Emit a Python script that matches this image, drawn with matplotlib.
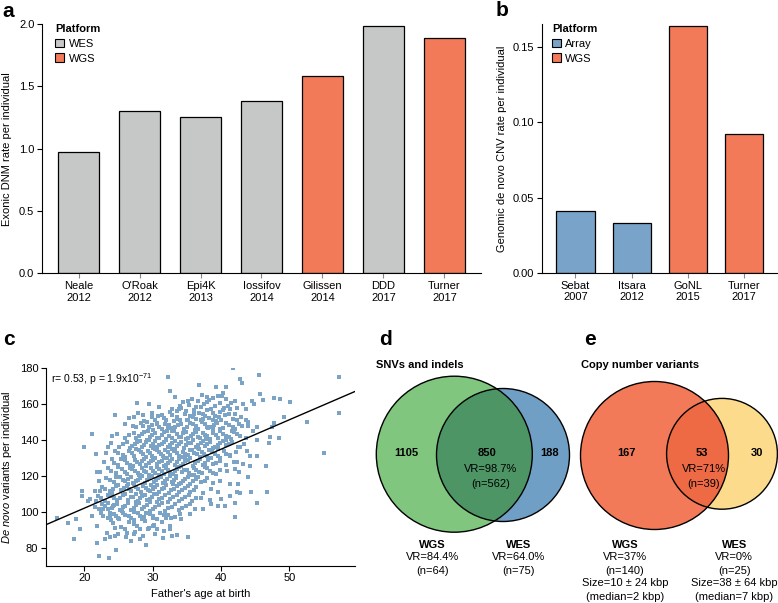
import numpy as np
import matplotlib
matplotlib.use("Agg")
import matplotlib.pyplot as plt
from matplotlib.patches import Circle, Patch

plt.rcParams['font.family'] = ['Liberation Sans', 'DejaVu Sans']
plt.rcParams['mathtext.fontset'] = 'custom'
plt.rcParams['mathtext.rm'] = 'Liberation Sans'
plt.rcParams['mathtext.it'] = 'Liberation Sans:italic'
plt.rcParams['mathtext.bf'] = 'Liberation Sans:bold'
plt.rcParams['font.size'] = 8

# ---- data ----
# a: exonic DNM rate
studies_a = ["Neale\n2012", "O'Roak\n2012", "Epi4K\n2013", "Iossifov\n2014",
             "Gilissen\n2014", "DDD\n2017", "Turner\n2017"]
rate_a = [0.97, 1.30, 1.25, 1.38, 1.58, 1.98, 1.89]
platform_a = ["WES", "WES", "WES", "WES", "WGS", "WES", "WGS"]

# b: genomic de novo CNV rate
studies_b = ["Sebat\n2007", "Itsara\n2012", "GoNL\n2015", "Turner\n2017"]
rate_b = [0.041, 0.033, 0.164, 0.092]
platform_b = ["Array", "Array", "WGS", "WGS"]

# c: father's age vs de novo count
pts_c = [
    (41.7, 180), (32.2, 175.2), (45.6, 176.3), (57.2, 175.2), (42.8, 174), (43.0, 171.6),
    (36.8, 170.3), (32.5, 167), (39.3, 169.2), (40.8, 169.2), (40.1, 164.4), (38.9, 163.2),
    (27.7, 160.4), (45.7, 165.3), (46.2, 162), (47.7, 163.2), (48.6, 162.5), (50.1, 161.2),
    (44.5, 161.6), (44.8, 159.7), (43.2, 160), (57.2, 155.2), (52.6, 150.2), (49.2, 153),
    (47.4, 147.4), (47.7, 149.5), (45.2, 140), (47.0, 138.3), (48.5, 140.9), (47.1, 141.5),
    (55.1, 132.5), (44.3, 130.8), (46.6, 125.3), (44.2, 125.6), (44.0, 119.1), (46.8, 111.1),
    (45.2, 105.1), (44.4, 111.1), (42.0, 97.3), (42.0, 104.8),
    (21.1, 143.3), (20.0, 136.2), (21.7, 132.1), (23.4, 136.2), (24.5, 153.6), (24.1, 142.4),
    (16.0, 96.8), (17.6, 93.6), (18.8, 96.2), (18.5, 84.7), (19.4, 90.2), (19.7, 111.7),
    (19.6, 109), (20.6, 106.1), (21.7, 106.1), (22.3, 111.3), (21.8, 121.9), (22.1, 117.2),
    (21.9, 92.1), (21.8, 82.8), (22.2, 75.3), (23.6, 74.4), (24.7, 78.7), (23.0, 84.7),
    (23.3, 88.4), (22.8, 101.5), (23.8, 97.7), (24.5, 86.5), (24.5, 91.2), (25.0, 96.8),
    (24.2, 103.4), (26.2, 88.4), (26.8, 83.7), (28.1, 84.7), (29.1, 81.3), (27.2, 87.5),
    (28.1, 90.2), (29.3, 90.2), (30.6, 90.2), (31.6, 89.3), (32.8, 86.5), (35.2, 86.1),
    (32.5, 90.2), (30.0, 92.1), (27.2, 93), (28.4, 95.8), (30.1, 96.8), (32.0, 96.8),
    (34.2, 95.8), (35.4, 98.6), (37.3, 101.4), (38.6, 104.2), (39.6, 103.3), (40.6, 103.3),
    (41.3, 108.9), (42.8, 110.7), (42.5, 115.4), (41.3, 115.4), (39.8, 117.2), (42.0, 123.8),
    (43.2, 126.5), (42.4, 127.5), (41.3, 131.2), (43.8, 134), (42.8, 135.9), (45.2, 131.2),
    (44.0, 148), (44.7, 145.2), (43.7, 150.8), (42.0, 154.5), (41.3, 157.3), (40.3, 156.4),
    (37.9, 161), (37.0, 158.2), (36.0, 154.5), (35.1, 161.9), (34.0, 159.1), (32.8, 157.3),
    (31.6, 152.2), (29.9, 152.6), (28.6, 153.6), (29.2, 149.8), (27.5, 147), (27.2, 152.6),
    (30.6, 148.9), (32.3, 147), (33.5, 151.7), (35.0, 150.8), (37.4, 151.7), (38.9, 150.8),
    (37.9, 147),
    (33.2, 164), (34.5, 161), (35.8, 163), (37.2, 165), (38.3, 162), (39.6, 164.5),
    (40.8, 163), (41.5, 160.5), (42.3, 158), (36.4, 158.5), (33.8, 157), (31.0, 158.5),
    (29.4, 160), (39.1, 158.8), (40.4, 157.5), (37.9, 156.9), (43.6, 157.2), (34.9, 156),
    (27.8, 155), (29.9, 154.8), (31.3, 153.7), (32.5, 155.5), (33.6, 152.8), (34.7, 154.3),
    (35.9, 152.5), (36.8, 155.2), (37.7, 153.5), (38.8, 154.8), (39.7, 152.6), (40.6, 153.9),
    (41.8, 151.5), (42.9, 152.8), (30.4, 151.2), (28.8, 150.6), (33.1, 150.3), (35.2, 150.9),
    (37.1, 151.1), (39.2, 150.4), (26.5, 152.0), (43.9, 150.1),
    (25.9, 148.8), (27.1, 147.5), (28.3, 149.3), (29.5, 147.2), (30.6, 149.5), (31.4, 146.3),
    (32.4, 148.2), (33.3, 146.9), (34.2, 149.1), (35.0, 147.4), (35.9, 148.6), (36.7, 146.1),
    (37.6, 148.9), (38.5, 147.0), (39.4, 149.2), (40.3, 146.8), (41.2, 148.3), (42.1, 146.2),
    (43.1, 147.8), (45.2, 146.9), (30.0, 145.4), (32.9, 145.1), (36.2, 145.3), (38.9, 145.8),
    (41.6, 145.0),
    (24.8, 143.4), (26.0, 141.2), (27.2, 144.1), (28.0, 142.0), (28.8, 144.5), (29.6, 141.6),
    (30.3, 143.8), (31.0, 141.1), (31.7, 144.2), (32.4, 142.3), (33.1, 144.7), (33.8, 141.4),
    (34.5, 143.6), (35.2, 140.9), (35.9, 143.1), (36.6, 141.7), (37.3, 144.0), (38.0, 142.1),
    (38.8, 143.9), (39.5, 141.3), (40.3, 143.5), (41.1, 141.8), (41.9, 144.3), (42.8, 142.0),
    (43.7, 141.0), (29.2, 140.2), (32.0, 140.3), (34.9, 140.5), (37.8, 140.4), (40.7, 140.1),
    (23.9, 138.4), (25.1, 136.2), (26.3, 139.0), (27.0, 136.8), (27.7, 138.9), (28.4, 136.0),
    (29.0, 138.6), (29.7, 136.5), (30.4, 139.3), (31.0, 137.1), (31.6, 138.8), (32.3, 135.8),
    (32.9, 138.2), (33.6, 136.4), (34.2, 139.1), (34.9, 137.0), (35.6, 138.5), (36.3, 135.9),
    (37.0, 138.3), (37.7, 136.6), (38.4, 139.0), (39.1, 136.3), (39.9, 138.1), (40.8, 136.9),
    (41.6, 138.7), (42.5, 136.0), (43.4, 137.9), (30.1, 135.3), (33.3, 135.2), (36.7, 135.4),
    (39.5, 135.1),
    (23.2, 132.5), (24.5, 134.0), (25.6, 131.8), (26.6, 133.9), (27.3, 131.2), (28.0, 134.3),
    (28.6, 132.0), (29.3, 133.8), (29.9, 131.0), (30.6, 134.4), (31.2, 132.2), (31.8, 134.6),
    (32.5, 131.5), (33.1, 133.6), (33.8, 130.8), (34.4, 133.2), (35.1, 131.4), (35.8, 134.1),
    (36.5, 131.9), (37.2, 133.5), (37.9, 130.9), (38.7, 133.0), (39.5, 131.3), (40.4, 133.7),
    (41.3, 131.6), (42.2, 133.1), (30.3, 130.2), (32.1, 130.1), (34.8, 130.4), (36.9, 130.3),
    (22.9, 127.5), (24.0, 129.1), (25.0, 126.3), (25.9, 128.7), (26.7, 126.0), (27.4, 128.9),
    (28.1, 126.6), (28.7, 129.3), (29.4, 127.0), (30.0, 129.0), (30.7, 126.4), (31.3, 128.5),
    (31.9, 125.9), (32.6, 128.1), (33.2, 126.2), (33.9, 129.4), (34.5, 126.8), (35.2, 128.6),
    (35.9, 125.7), (36.6, 128.2), (37.3, 126.0), (38.1, 128.8), (38.9, 126.5), (39.8, 128.4),
    (40.7, 125.8), (41.9, 127.7), (29.1, 125.3), (31.6, 125.2), (34.1, 125.4),
    (22.3, 122.0), (23.5, 124.2), (24.6, 121.5), (25.5, 123.6), (26.3, 120.9), (27.0, 123.9),
    (27.8, 121.7), (28.4, 124.4), (29.1, 122.1), (29.7, 124.6), (30.4, 121.3), (31.0, 123.8),
    (31.7, 120.8), (32.3, 123.3), (33.0, 121.2), (33.6, 124.0), (34.3, 121.9), (35.0, 123.5),
    (35.7, 120.7), (36.4, 123.1), (37.2, 121.4), (38.0, 124.3), (38.9, 121.8), (39.8, 123.2),
    (40.9, 122.5), (42.6, 121.9), (28.0, 120.3), (30.9, 120.2), (33.4, 120.1), (36.0, 120.4),
    (22.1, 117.2), (23.2, 118.6), (24.3, 116.4), (25.2, 119.1), (26.0, 116.9), (26.8, 119.4),
    (27.5, 117.1), (28.2, 118.9), (28.9, 116.2), (29.5, 119.2), (30.2, 116.8), (30.8, 118.7),
    (31.5, 115.8), (32.1, 118.3), (32.8, 116.5), (33.4, 119.0), (34.1, 116.1), (34.8, 118.4),
    (35.5, 115.6), (36.3, 118.1), (37.1, 116.3), (38.0, 118.8), (38.9, 116.0), (39.8, 117.2),
    (41.3, 115.4), (26.4, 115.3), (29.8, 115.1), (33.0, 115.2),
    (21.5, 111.8), (22.6, 113.9), (23.7, 111.4), (24.6, 114.2), (25.4, 112.0), (26.2, 114.5),
    (26.9, 111.3), (27.6, 113.6), (28.3, 110.9), (29.0, 113.1), (29.6, 111.5), (30.3, 114.0),
    (31.0, 111.0), (31.7, 113.4), (32.4, 110.6), (33.1, 112.8), (33.9, 110.8), (34.7, 113.3),
    (35.5, 111.2), (36.4, 113.7), (37.4, 110.7), (38.5, 112.6), (39.6, 111.0), (42.3, 110.9),
    (24.1, 110.2), (30.7, 110.1),
    (20.9, 107.1), (22.0, 108.6), (23.1, 106.2), (24.0, 108.9), (24.8, 106.5), (25.6, 109.1),
    (26.4, 106.8), (27.1, 108.3), (27.8, 105.9), (28.5, 108.7), (29.2, 106.4), (29.9, 108.1),
    (30.6, 105.6), (31.4, 107.9), (32.2, 105.3), (33.0, 108.0), (33.9, 106.1), (34.8, 108.4),
    (35.8, 105.8), (37.0, 107.4), (38.4, 106.6), (40.0, 107.3), (23.5, 105.1), (27.5, 105.2),
    (21.6, 102.4), (22.6, 104.1), (23.5, 101.5), (24.4, 103.8), (25.2, 101.0), (26.0, 103.4),
    (26.8, 100.8), (27.6, 103.7), (28.4, 101.3), (29.2, 104.0), (30.0, 101.6), (30.9, 103.5),
    (31.8, 100.7), (32.8, 102.9), (33.8, 100.9), (34.9, 103.1), (36.2, 101.4), (25.5, 100.2),
    (29.6, 100.3),
    (21.2, 97.4), (22.4, 99.1), (23.4, 96.5), (24.3, 98.8), (25.1, 95.9), (26.0, 98.2),
    (26.9, 96.3), (27.8, 99.3), (28.7, 96.9), (29.6, 98.5), (30.6, 95.8), (31.6, 98.0),
    (32.7, 96.6), (34.0, 98.7), (23.9, 95.2), (27.3, 95.4),
    (24.2, 93.5), (25.4, 91.6), (26.5, 94.2), (27.7, 92.3), (28.9, 94.6), (30.2, 92.8),
    (31.3, 94.1), (32.6, 91.9), (25.9, 90.4), (29.4, 90.9),
    (24.9, 87.8), (26.1, 86.2), (27.4, 88.9), (28.6, 86.7), (30.4, 87.4), (31.5, 85.6),
    (33.6, 86.9), (23.8, 85.8),
    # denser core
    (34.1, 157.8), (35.3, 159.6), (36.1, 156.4), (37.5, 160.2), (38.6, 157.4), (39.9, 160.8),
    (41.0, 158.9), (42.0, 161.7), (38.0, 163.6), (40.3, 166.1), (36.6, 161.4),
    (30.8, 153.1), (31.9, 151.0), (32.8, 153.6), (34.0, 151.3), (35.4, 153.2), (36.3, 151.8),
    (37.3, 154.6), (38.2, 152.0), (39.1, 153.4), (40.0, 151.1), (41.2, 154.2), (42.4, 150.9),
    (33.5, 155.9), (39.9, 155.6),
    (28.6, 147.9), (29.9, 148.4), (30.9, 146.9), (31.8, 148.8), (32.7, 146.5), (33.7, 148.4),
    (34.6, 146.2), (35.5, 149.4), (36.4, 147.5), (37.2, 149.8), (38.1, 146.5), (39.0, 148.1),
    (39.9, 146.2), (40.8, 149.6), (41.7, 147.3), (42.6, 148.9),
    (26.6, 142.8), (27.6, 141.3), (28.4, 143.0), (29.3, 144.9), (29.9, 142.7), (30.7, 140.8),
    (31.4, 142.6), (32.1, 144.9), (32.8, 141.0), (33.5, 143.0), (34.2, 141.6), (34.9, 144.3),
    (35.6, 142.2), (36.3, 144.6), (36.9, 140.8), (37.6, 142.9), (38.4, 140.7), (39.2, 142.6),
    (39.9, 144.8), (40.7, 142.3), (41.5, 140.6), (42.4, 143.1),
    (25.7, 137.5), (26.7, 135.6), (27.4, 137.6), (28.1, 139.6), (28.7, 137.2), (29.4, 139.7),
    (30.0, 137.8), (30.7, 136.0), (31.3, 137.9), (32.0, 139.8), (32.6, 137.0), (33.3, 139.5),
    (33.9, 137.6), (34.6, 135.6), (35.2, 138.0), (35.9, 139.8), (36.6, 137.2), (37.3, 139.5),
    (38.0, 137.5), (38.8, 135.6), (39.5, 137.3), (40.3, 139.4), (41.2, 137.6),
    (24.9, 132.6), (26.0, 130.4), (27.0, 132.7), (27.6, 134.9), (28.3, 133.0), (29.0, 130.6),
    (29.6, 132.7), (30.3, 135.0), (30.9, 133.1), (31.5, 131.0), (32.2, 133.0), (32.8, 134.9),
    (33.5, 132.5), (34.1, 130.5), (34.7, 132.4), (35.4, 134.6), (36.1, 132.6), (36.8, 134.9),
    (37.5, 132.3), (38.3, 134.4), (39.1, 132.2), (39.9, 130.1), (40.8, 132.4),
    (24.4, 127.0), (25.4, 129.6), (26.3, 127.4), (27.1, 125.3), (27.7, 127.6), (28.4, 128.0),
    (29.0, 125.8), (29.7, 128.0), (30.3, 130.0), (31.0, 127.7), (31.6, 129.8), (32.3, 127.0),
    (32.9, 129.6), (33.5, 127.5), (34.2, 125.5), (34.8, 128.1), (35.5, 130.0), (36.2, 127.1),
    (36.9, 129.5), (37.7, 127.3), (38.5, 129.8), (39.3, 127.4),
    (23.9, 122.6), (25.0, 124.8), (25.9, 122.2), (26.7, 124.6), (27.4, 122.6), (28.1, 120.6),
    (28.8, 122.8), (29.4, 120.7), (30.0, 122.9), (30.7, 125.0), (31.3, 122.5), (32.0, 124.6),
    (32.6, 121.9), (33.3, 122.8), (33.9, 125.1), (34.6, 123.0), (35.3, 121.5), (36.0, 124.2),
    (36.8, 122.3), (37.6, 124.8), (38.4, 122.5), (39.3, 120.8),
    (23.8, 117.5), (24.7, 119.6), (25.6, 117.8), (26.4, 118.3), (27.1, 115.9), (27.9, 117.8),
    (28.5, 119.8), (29.2, 117.6), (29.9, 119.9), (30.5, 117.7), (31.2, 119.6), (31.8, 117.3),
    (32.5, 119.7), (33.1, 117.5), (33.8, 115.4), (34.5, 117.3), (35.2, 119.5), (35.9, 117.1),
    (36.7, 119.6), (37.6, 117.4),
    (23.1, 112.5), (24.2, 112.9), (25.0, 115.1), (25.8, 113.0), (26.6, 112.4), (27.3, 115.2),
    (27.9, 112.5), (28.6, 114.6), (29.3, 112.3), (30.0, 112.6), (30.7, 114.9), (31.3, 112.4),
    (32.0, 114.8), (32.7, 112.2), (33.5, 114.5), (34.3, 111.9), (35.1, 114.3), (36.0, 112.3),
    (22.5, 107.5), (23.5, 109.6), (24.4, 107.5), (25.2, 107.9), (26.0, 109.8), (26.8, 108.0),
    (27.5, 109.9), (28.1, 107.4), (28.9, 109.6), (29.6, 107.3), (30.2, 109.7), (31.0, 106.9),
    (31.8, 109.4), (32.6, 107.2), (33.5, 109.3), (34.3, 107.2), (35.3, 109.6), (36.4, 107.9),
    (22.1, 101.4), (23.0, 103.0), (24.0, 102.3), (24.8, 104.5), (25.6, 102.5), (26.4, 104.8),
    (27.2, 102.2), (28.0, 104.9), (28.8, 102.8), (29.6, 105.3), (30.4, 102.9), (31.3, 105.0),
    (32.3, 101.9), (33.3, 104.2), (34.3, 102.1), (35.5, 104.6),
    (22.8, 97.9), (23.8, 99.6), (24.7, 97.4), (25.6, 99.5), (26.5, 97.6), (27.3, 99.8),
    (28.2, 97.8), (29.1, 99.6), (30.1, 97.5), (31.1, 99.6), (32.2, 98.4), (33.3, 97.1),
]
father_age = [p[0] for p in pts_c]
dnm_count = [p[1] for p in pts_c]
fit_slope = 1.64
fit_intercept = 69.2

# d, e: venn counts
venn_d = ["1105", "850", "188"]
venn_e = ["167", "53", "30"]

COL = {"WES": "#c6c7c7", "WGS": "#f27a58", "Array": "#79a3c8"}
SCAT = "#7aa3c6"

fig = plt.figure(figsize=(7.78, 6.03), dpi=100)
W, H = 778.0, 603.0


def px_axes(l, t, r, b):
    return fig.add_axes([l / W, 1 - b / H, (r - l) / W, (b - t) / H])


def style(ax):
    for s in ("top", "right"):
        ax.spines[s].set_visible(False)
    ax.tick_params(direction="out", length=3.5, width=0.8, labelsize=8, pad=2)


def platform_legend(ax, names):
    handles = [Patch(facecolor=COL[n], edgecolor="black", linewidth=0.8, label=n) for n in names]
    leg = ax.legend(handles=handles, title="Platform", loc="upper left",
                    bbox_to_anchor=(0.015, 1.025), frameon=False,
                    handlelength=0.8, handleheight=0.8, handletextpad=0.4, labelspacing=0.4,
                    borderaxespad=0.2, fontsize=8,
                    title_fontproperties={"weight": "bold", "size": 8})
    leg._legend_box.align = "left"


# ---- panel a ----
ax1 = px_axes(42, 24, 481, 273.3)
style(ax1)
ax1.bar(range(len(rate_a)), rate_a, width=0.68,
        color=[COL[p] for p in platform_a], edgecolor="black", linewidth=0.9)
ax1.set_xlim(-0.6, len(rate_a) - 0.4)
ax1.set_ylim(0, 2.0)
ax1.set_yticks([0, 0.5, 1.0, 1.5, 2.0])
ax1.set_xticks(range(len(studies_a)))
ax1.set_xticklabels(studies_a)
ax1.tick_params(axis="x", color="#888888")
ax1.set_ylabel("Exonic DNM rate per individual", fontsize=8, labelpad=5)
platform_legend(ax1, ["WES", "WGS"])

# ---- panel b ----
ax2 = px_axes(541.7, 24, 777.7, 273)
style(ax2)
ax2.bar(range(len(rate_b)), rate_b, width=0.68,
        color=[COL[p] for p in platform_b], edgecolor="black", linewidth=0.9)
ax2.set_xlim(-0.6, len(rate_b) - 0.4)
ax2.set_ylim(0, 0.165)
ax2.set_yticks([0, 0.05, 0.10, 0.15])
ax2.set_yticklabels(["0.00", "0.05", "0.10", "0.15"])
ax2.set_xticks(range(len(studies_b)))
ax2.set_xticklabels(studies_b)
ax2.tick_params(axis="x", color="#888888")
ax2.set_ylabel("Genomic de novo CNV rate per individual", fontsize=8, labelpad=4)
platform_legend(ax2, ["Array", "WGS"])

# ---- panel c ----
ax3 = px_axes(46, 368, 355, 565.7)
style(ax3)
ax3.scatter(father_age, dnm_count, s=6.5, marker="s", color=SCAT, linewidths=0)
xl = (14.4, 59.6)
ax3.plot(xl, [fit_intercept + fit_slope * x for x in xl], color="black", lw=1)
ax3.set_xlim(*xl)
ax3.set_ylim(70, 180)
ax3.set_yticks([80, 100, 120, 140, 160, 180])
ax3.set_xticks([20, 30, 40, 50])
ax3.set_xlabel("Father's age at birth", fontsize=8, labelpad=4)
ax3.set_ylabel(r"$\it{De\ novo}$ variants per individual", fontsize=8, labelpad=4)
ax3.text(0.015, 0.985, r"r= 0.53, p = 1.9x10$^{-71}$", transform=ax3.transAxes,
         ha="left", va="top", fontsize=7.5)

# ---- panels d, e (venn) ----
axv = fig.add_axes([0, 0, 1, 1])
axv.set_xlim(0, W)
axv.set_ylim(H, 0)
axv.axis("off")


def venn(ax, c1, r1, c2, r2, col1, col2, colx):
    ax.add_patch(Circle(c1, r1, facecolor=col1, edgecolor="none"))
    ax.add_patch(Circle(c2, r2, facecolor=col2, edgecolor="none"))
    clip = Circle(c1, r1, transform=ax.transData, facecolor="none")
    inter = Circle(c2, r2, facecolor=colx, edgecolor="none")
    ax.add_patch(inter)
    inter.set_clip_path(clip)
    ax.add_patch(Circle(c1, r1, facecolor="none", edgecolor="black", lw=1))
    ax.add_patch(Circle(c2, r2, facecolor="none", edgecolor="black", lw=1))


venn(axv, (454.3, 454.2), 78, (503, 455), 66.5, "#80c67e", "#709fc6", "#4e9566")
venn(axv, (654.5, 455.5), 74, (722, 453.8), 55.4, "#f27a58", "#fcdc8c", "#ee6a45")

for x, t in zip([406.7, 487.3, 550], venn_d):
    axv.text(x, 453.5, t, ha="center", va="center", fontsize=8, fontweight="bold")
axv.text(491, 469.5, "VR=98.7%", ha="center", va="center", fontsize=8)
axv.text(491, 484, "(n=562)", ha="center", va="center", fontsize=8)
for x, t in zip([626.7, 701.7, 756.7], venn_e):
    axv.text(x, 453.5, t, ha="center", va="center", fontsize=8, fontweight="bold")
axv.text(704, 469.5, "VR=71%", ha="center", va="center", fontsize=8)
axv.text(704, 484, "(n=39)", ha="center", va="center", fontsize=8)

axv.text(376.5, 365, "SNVs and indels", ha="left", va="center", fontsize=8, fontweight="bold")
axv.text(581.5, 365, "Copy number variants", ha="left", va="center", fontsize=8, fontweight="bold")


def block(ax, x, lines):
    for i, ln in enumerate(lines):
        ax.text(x, 544.5 + 13.0 * i, ln, ha="center", va="center", fontsize=8,
                fontweight="bold" if i == 0 else "normal")


block(axv, 432.7, ["WGS", "VR=84.4%", "(n=64)"])
block(axv, 518.3, ["WES", "VR=64.0%", "(n=75)"])
block(axv, 625, ["WGS", "VR=37%", "(n=140)", "Size=10 \u00b1 24 kbp", "(median=2 kbp)"])
block(axv, 734.3, ["WES", "VR=0%", "(n=25)", "Size=38 \u00b1 64 kbp", "(median=7 kbp)"])

# panel letters
for x, y, t in [(2, 17, "a"), (496, 16, "b"), (3, 345, "c"), (379, 345, "d"), (584, 345, "e")]:
    fig.text(x / W, 1 - y / H, t, fontsize=15, fontweight="bold", ha="left", va="baseline")

fig.savefig("out.png", dpi=100)
